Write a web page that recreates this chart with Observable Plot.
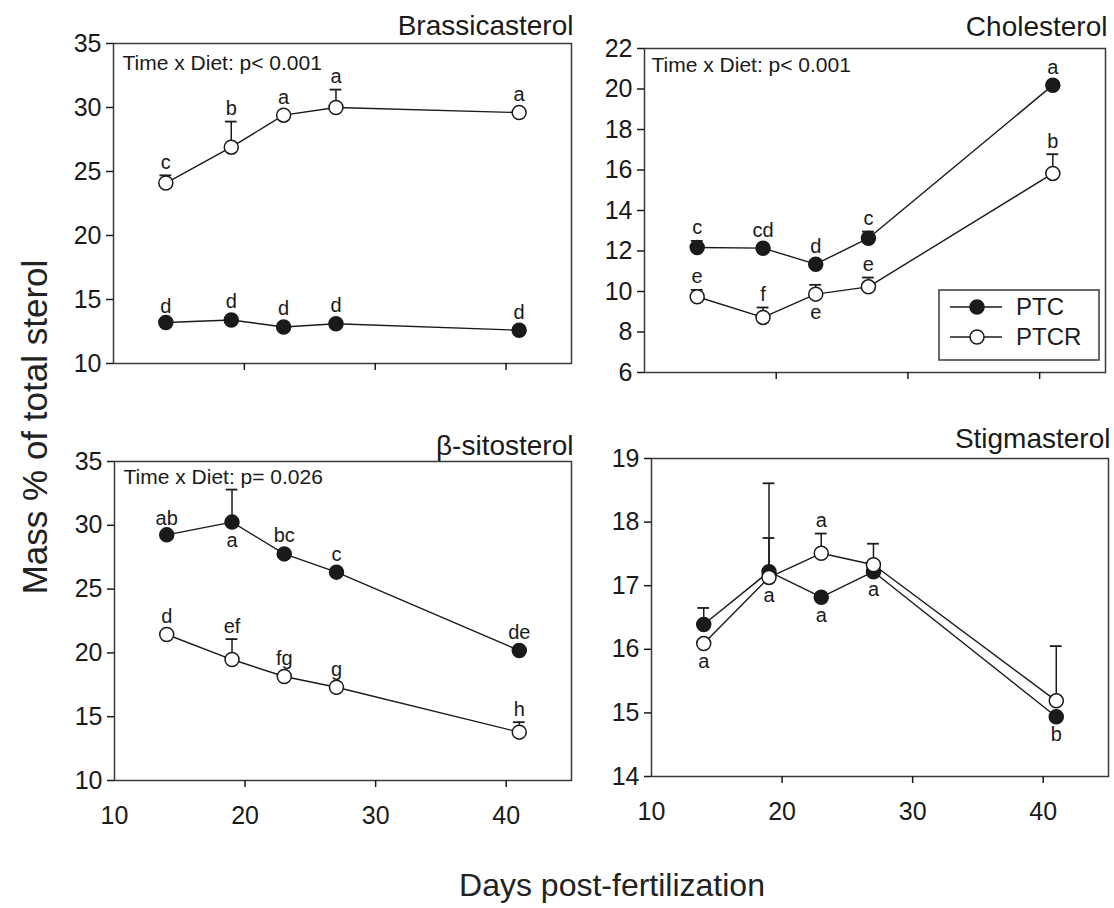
<!DOCTYPE html>
<html>
<head>
<meta charset="utf-8">
<script src="https://cdn.jsdelivr.net/npm/d3@7"></script>
<script src="https://cdn.jsdelivr.net/npm/@observablehq/plot@0.6"></script>
<style>
  html, body { margin: 0; padding: 0; background: #fff; }
  #wrap { position: relative; width: 1114px; height: 908px; background: #fff; overflow: hidden;
          font-family: "Liberation Sans", Arial, sans-serif; color: #222; }
  .ytitle { position: absolute; left: 35px; top: 427px; transform: translate(-50%, -50%) rotate(-90deg);
            white-space: nowrap; font-size: 35px; z-index: 5; }
  .xtitle { position: absolute; left: 612px; top: 885px; transform: translate(-50%, -50%);
            white-space: nowrap; font-size: 32px; z-index: 5; }
</style>
</head>
<body>
<div id="wrap"></div>
<script>
// ---------- data ----------
const days = [14, 19, 23, 27, 41];
const seriesNames = ["PTC", "PTCR"];
const xTickLabels = [10, 20, 30, 40];
const xTickMarks = [20, 30, 40];

// Brassicasterol
const brasPTC = [13.2, 13.4, 12.85, 13.1, 12.6];
const brasPTCR = [24.1, 26.9, 29.4, 30.0, 29.6];
const brasPTCErr = [13.45, null, null, null, null];
const brasPTCRErr = [24.7, 28.9, null, 31.4, null];
const brasPTCLab = ["d", "d", "d", "d", "d"];
const brasPTCRLab = ["c", "b", "a", "a", "a"];
const brasPTCSide = ["above", "above", "above", "above", "above"];
const brasPTCRSide = ["above", "above", "above", "above", "above"];
const brasTicks = [10, 15, 20, 25, 30, 35];

// Cholesterol
const cholPTC = [12.17, 12.14, 11.35, 12.63, 20.19];
const cholPTCR = [9.74, 8.72, 9.87, 10.23, 15.83];
const cholPTCErr = [12.5, null, null, 12.96, null];
const cholPTCRErr = [10.08, 9.21, 10.33, 10.69, 16.78];
const cholPTCLab = ["c", "cd", "d", "c", "a"];
const cholPTCRLab = ["e", "f", "e", "e", "b"];
const cholPTCSide = ["above", "above", "above", "above", "above"];
const cholPTCRSide = ["above", "above", "below", "above", "above"];
const cholTicks = [6, 8, 10, 12, 14, 16, 18, 20, 22];

// beta-sitosterol
const sitoPTC = [29.25, 30.25, 27.76, 26.33, 20.19];
const sitoPTCR = [21.44, 19.48, 18.15, 17.31, 13.79];
const sitoPTCErr = [29.5, 32.8, null, null, null];
const sitoPTCRErr = [null, 21.08, null, null, 14.57];
const sitoPTCLab = ["ab", "a", "bc", "c", "de"];
const sitoPTCRLab = ["d", "ef", "fg", "g", "h"];
const sitoPTCSide = ["above", "below", "above", "above", "above"];
const sitoPTCRSide = ["above", "above", "above", "above", "above"];
const sitoTicks = [10, 15, 20, 25, 30, 35];

// Stigmasterol
const stigPTC = [16.39, 17.22, 16.82, 17.22, 14.94];
const stigPTCR = [16.09, 17.13, 17.51, 17.33, 15.19];
const stigPTCErr = [16.65, 18.61, null, null, null];
const stigPTCRErr = [null, 17.75, 17.82, 17.66, 16.05];
const stigPTCLab = [null, null, "a", "a", "b"];
const stigPTCRLab = ["a", "a", "a", null, null];
const stigPTCSide = ["above", "above", "below", "below", "below"];
const stigPTCRSide = ["below", "below", "above", "above", "above"];
const stigTicks = [14, 15, 16, 17, 18, 19];

const titles = ["Brassicasterol", "Cholesterol", "\u03B2-sitosterol", "Stigmasterol"];
const notes = ["Time x Diet: p< 0.001", "Time x Diet: p< 0.001", "Time x Diet: p= 0.026", null];
const xTitle = "Days post-fertilization";
const yTitle = "Mass % of total sterol";

// ---------- helpers ----------
const FONT = '"Liberation Sans", Arial, sans-serif';
const INK = "#1a1a1a";

function rowsFor(vals, errs, labs, sides, name) {
  return days.map((d, i) => ({
    day: d, value: vals[i], upper: errs[i], label: labs[i], side: sides[i], series: name
  }));
}

function panel(cfg) {
  const rows = [
    ...rowsFor(cfg.ptc, cfg.ptcErr, cfg.ptcLab, cfg.ptcSide, "PTC"),
    ...rowsFor(cfg.ptcr, cfg.ptcrErr, cfg.ptcrLab, cfg.ptcrSide, "PTCR")
  ];
  const errRows = rows.filter(r => r.upper != null);
  const labRows = rows.filter(r => r.label != null);
  const aboveCap = labRows.filter(r => r.side === "above" && r.upper != null);
  const abovePt = labRows.filter(r => r.side === "above" && r.upper == null);
  const below = labRows.filter(r => r.side === "below");
  const marks = [
    Plot.frame({stroke: "#3a3a3a", strokeWidth: 1.5}),
    Plot.axisY({ticks: cfg.yTicks, tickSize: 7, tickPadding: 5, fontSize: 25, strokeWidth: 1.5, tickFormat: d => String(d)}),
    Plot.axisX({ticks: xTickMarks, tickSize: 7, tickFormat: () => "", strokeWidth: 1.5}),
    Plot.line(rows, {x: "day", y: "value", z: "series", stroke: INK, strokeWidth: 1.4}),
    Plot.ruleX(errRows, {x: "day", y1: "value", y2: "upper", stroke: INK, strokeWidth: 1.5}),
    Plot.ruleY(errRows, {y: "upper", x1: d => d.day - 0.45, x2: d => d.day + 0.45, stroke: INK, strokeWidth: 1.8}),
    Plot.dot(rows.filter(r => r.series === "PTC"), {x: "day", y: "value", r: 7, fill: INK, stroke: INK, strokeWidth: 1.5}),
    Plot.dot(rows.filter(r => r.series === "PTCR"), {x: "day", y: "value", r: 7, fill: "white", stroke: INK, strokeWidth: 1.5}),
    Plot.text(aboveCap, {x: "day", y: d => Math.max(d.upper, d.value), text: "label", dy: -13, fontSize: 20, fill: INK}),
    Plot.text(abovePt, {x: "day", y: "value", text: "label", dy: -18, fontSize: 20, fill: INK}),
    Plot.text(below, {x: "day", y: "value", text: "label", dy: 18, fontSize: 20, fill: INK}),
    Plot.text([cfg.title], {frameAnchor: "top-right", text: d => d, textAnchor: "end", lineAnchor: "bottom",
      dy: cfg.titleDy, dx: 2, fontSize: 28, fill: INK})
  ];
  if (cfg.note) {
    marks.push(Plot.text([cfg.note], {frameAnchor: "top-left", text: d => d, textAnchor: "start", lineAnchor: "top",
      dx: cfg.noteDx, dy: cfg.noteDy, fontSize: 21, fill: INK}));
  }
  if (cfg.xLabels) {
    marks.push(Plot.axisX({ticks: xTickLabels, tickSize: 0, tickPadding: 26, fontSize: 25}));
  }
  const svg = Plot.plot({
    width: cfg.width, height: cfg.height,
    marginLeft: cfg.ml, marginRight: cfg.mr, marginTop: cfg.mt, marginBottom: cfg.mb,
    x: {domain: [10, 45], label: null},
    y: {domain: cfg.yDomain, label: null},
    style: {fontFamily: FONT, fontSize: "25px", color: INK, background: "transparent", overflow: "visible"},
    marks
  });
  svg.style.position = "absolute";
  svg.style.left = cfg.left + "px";
  svg.style.top = cfg.top + "px";
  svg.style.maxWidth = "none";
  return svg;
}

const wrap = document.getElementById("wrap");

wrap.appendChild(panel({
  left: 0, top: 0, width: 600, height: 420, ml: 113, mr: 29, mt: 43, mb: 57,
  yDomain: [10, 35], yTicks: brasTicks, title: titles[0], titleDy: -9, note: notes[0], noteDx: 9, noteDy: 12,
  ptc: brasPTC, ptcr: brasPTCR, ptcErr: brasPTCErr, ptcrErr: brasPTCRErr,
  ptcLab: brasPTCLab, ptcrLab: brasPTCRLab, ptcSide: brasPTCSide, ptcrSide: brasPTCRSide, xLabels: false
}));
wrap.appendChild(panel({
  left: 600, top: 0, width: 514, height: 420, ml: 44, mr: 9, mt: 48, mb: 48,
  yDomain: [6, 22], yTicks: cholTicks, title: titles[1], titleDy: -13, note: notes[1], noteDx: 7, noteDy: 9,
  ptc: cholPTC, ptcr: cholPTCR, ptcErr: cholPTCErr, ptcrErr: cholPTCRErr,
  ptcLab: cholPTCLab, ptcrLab: cholPTCRLab, ptcSide: cholPTCSide, ptcrSide: cholPTCRSide, xLabels: false
}));
wrap.appendChild(panel({
  left: 0, top: 420, width: 600, height: 420, ml: 114, mr: 29, mt: 41, mb: 60,
  yDomain: [10, 35], yTicks: sitoTicks, title: titles[2], titleDy: -7, note: notes[2], noteDx: 9, noteDy: 8,
  ptc: sitoPTC, ptcr: sitoPTCR, ptcErr: sitoPTCErr, ptcrErr: sitoPTCRErr,
  ptcLab: sitoPTCLab, ptcrLab: sitoPTCRLab, ptcSide: sitoPTCSide, ptcrSide: sitoPTCRSide, xLabels: true
}));
wrap.appendChild(panel({
  left: 600, top: 420, width: 514, height: 420, ml: 51, mr: 6, mt: 38, mb: 64,
  yDomain: [14, 19], yTicks: stigTicks, title: titles[3], titleDy: -11, note: notes[3],
  ptc: stigPTC, ptcr: stigPTCR, ptcErr: stigPTCErr, ptcrErr: stigPTCRErr,
  ptcLab: stigPTCLab, ptcrLab: stigPTCRLab, ptcSide: stigPTCSide, ptcrSide: stigPTCRSide, xLabels: true
}));

// ---------- legend (inside Cholesterol panel) ----------
const leg = d3.create("svg")
  .attr("width", 162).attr("height", 72)
  .style("position", "absolute").style("left", "938px").style("top", "289px").style("z-index", 4)
  .style("font-family", FONT);
leg.append("rect").attr("x", 1).attr("y", 1).attr("width", 160).attr("height", 70)
  .attr("fill", "white").attr("stroke", "#3a3a3a").attr("stroke-width", 1.5);
seriesNames.forEach((name, i) => {
  const g = leg.append("g").attr("transform", `translate(0, ${18 + i * 30})`);
  g.append("line").attr("x1", 12).attr("x2", 64).attr("y1", 0).attr("y2", 0).attr("stroke", INK).attr("stroke-width", 1.4);
  g.append("circle").attr("cx", 39).attr("cy", 0).attr("r", 7)
    .attr("fill", i === 0 ? INK : "white").attr("stroke", INK).attr("stroke-width", 1.5);
  g.append("text").attr("x", 78).attr("y", 0).attr("dy", "0.35em").attr("font-size", 24).attr("fill", INK).text(name);
});
wrap.appendChild(leg.node());

// ---------- shared axis titles ----------
const yt = document.createElement("div"); yt.className = "ytitle"; yt.textContent = yTitle; wrap.appendChild(yt);
const xt = document.createElement("div"); xt.className = "xtitle"; xt.textContent = xTitle; wrap.appendChild(xt);
</script>
</body>
</html>
